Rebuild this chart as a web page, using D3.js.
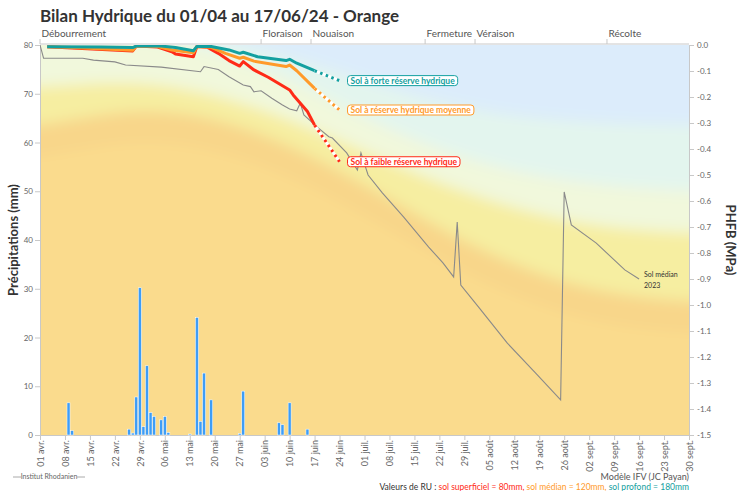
<!DOCTYPE html>
<html>
<head>
<meta charset="utf-8">
<script src="https://cdn.jsdelivr.net/npm/d3@7/dist/d3.min.js"></script>
<style>
  body { margin: 0; background: #fff; }
  svg { font-family: Lato, "Open Sans", sans-serif; }
</style>
</head>
<body>
<svg id="chart" width="739" height="491"></svg>
<script>
// pluie journalière (mm)
const rainDates = ["2024-04-09","2024-04-10","2024-04-26","2024-04-27","2024-04-28","2024-04-29","2024-04-30",
  "2024-05-01","2024-05-02","2024-05-03","2024-05-05","2024-05-06","2024-05-07","2024-05-13","2024-05-15",
  "2024-05-16","2024-05-17","2024-05-19","2024-05-27","2024-05-28","2024-06-07","2024-06-08","2024-06-10","2024-06-15"];
const rainMm = [6.6,0.9,1.2,0.4,7.8,30.2,1.7,14.2,4.6,3.8,3.1,3.8,0.5,0.2,24.1,2.8,12.7,7.2,0.3,9.0,2.5,2.1,6.6,1.2];

// PHFB (MPa) 2024 - trois types de sol
const forteDates = ["2024-04-03","2024-04-18","2024-04-27","2024-04-28","2024-05-05","2024-05-09","2024-05-14","2024-05-15",
  "2024-05-19","2024-05-24","2024-05-27","2024-05-28","2024-06-01","2024-06-09","2024-06-10","2024-06-12","2024-06-17"];
const forteVals = [-0.007,-0.008,-0.01,-0.004,-0.004,-0.01,-0.022,-0.006,-0.006,-0.019,-0.032,-0.028,-0.045,-0.06,-0.055,-0.07,-0.099];

const moyDates = ["2024-04-03","2024-04-10","2024-04-27","2024-04-28","2024-05-04","2024-05-08","2024-05-14","2024-05-15",
  "2024-05-19","2024-05-23","2024-05-27","2024-05-28","2024-05-31","2024-06-09","2024-06-10","2024-06-12","2024-06-17"];
const moyVals = [-0.007,-0.01,-0.02,-0.004,-0.006,-0.019,-0.03,-0.006,-0.009,-0.032,-0.051,-0.047,-0.062,-0.083,-0.077,-0.099,-0.167];

const faibleDates = ["2024-04-03","2024-04-10","2024-04-27","2024-04-28","2024-05-04","2024-05-08","2024-05-09","2024-05-14",
  "2024-05-15","2024-05-18","2024-05-21","2024-05-24","2024-05-27","2024-05-28","2024-05-31","2024-06-04","2024-06-10",
  "2024-06-11","2024-06-15","2024-06-17"];
const faibleVals = [-0.007,-0.012,-0.023,-0.004,-0.008,-0.026,-0.035,-0.045,-0.006,-0.009,-0.032,-0.06,-0.081,-0.064,
  -0.096,-0.124,-0.173,-0.192,-0.256,-0.308];

// prévision à 7 jours
const prevDates = ["2024-06-17","2024-06-24"];
const prevForte = [-0.099,-0.137];
const prevMoy = [-0.167,-0.25];
const prevFaible = [-0.308,-0.449];

// sol médian 2023
const medDates = ["2024-04-01","2024-04-02","2024-04-13","2024-04-16","2024-04-22","2024-04-25","2024-05-05","2024-05-16",
  "2024-05-17","2024-05-21","2024-05-24","2024-05-28","2024-05-30","2024-05-31","2024-06-02","2024-06-05","2024-06-08",
  "2024-06-10","2024-06-12","2024-06-13","2024-06-14","2024-06-18","2024-06-21","2024-06-22","2024-06-26","2024-06-29",
  "2024-06-30","2024-07-02","2024-07-06","2024-07-12","2024-07-19","2024-07-23","2024-07-26","2024-07-27","2024-07-28",
  "2024-08-02","2024-08-10","2024-08-18","2024-08-25","2024-08-26","2024-08-28","2024-09-04","2024-09-12","2024-09-16"];
const medVals = [0,-0.051,-0.051,-0.058,-0.065,-0.077,-0.085,-0.103,-0.083,-0.094,-0.122,-0.154,-0.16,-0.18,-0.176,-0.205,
  -0.231,-0.246,-0.253,-0.223,-0.269,-0.319,-0.353,-0.358,-0.415,-0.481,-0.415,-0.5,-0.569,-0.662,-0.777,-0.838,-0.892,
  -0.681,-0.923,-1.008,-1.146,-1.262,-1.365,-0.565,-0.692,-0.762,-0.865,-0.9];

// seuils de contrainte (fond coloré), MPa
const bandDates = ["2024-04-01","2024-05-01","2024-06-01","2024-07-01","2024-08-01","2024-09-01","2024-09-30"];
const seuilBleu = [0.1,0.06,0.0,-0.14,-0.26,-0.3,-0.31];
const seuilMenthe = [0.06,0.04,-0.058,-0.288,-0.462,-0.538,-0.565];
const seuilVert = [-0.165,-0.127,-0.231,-0.41,-0.59,-0.7,-0.725];
const seuilJaune = [-0.319,-0.223,-0.319,-0.53,-0.79,-0.95,-0.99];

const phenoNames = ["Débourrement","Floraison","Nouaison","Fermeture","Véraison","Récolte"];
const phenoDates = ["2024-04-01","2024-06-02","2024-06-16","2024-07-18","2024-08-01","2024-09-07"];

const rainTicks = [0,10,20,30,40,50,60,70,80];
const phfbTicks = [0,-0.1,-0.2,-0.3,-0.4,-0.5,-0.6,-0.7,-0.8,-0.9,-1.0,-1.1,-1.2,-1.3,-1.4,-1.5];
const moisFr = ["janv.","févr.","mars","avr.","mai","juin","juil.","août","sept.","oct.","nov.","déc."];

const parse = d3.utcParse("%Y-%m-%d");
const pts = (ds, vs) => ds.map((d, i) => ({ date: parse(d), v: vs[i] }));

const svg = d3.select("#chart");
const pLeft = 40, pRight = 689, pTop = 45, pBottom = 435;

const x = d3.scaleUtc().domain([parse("2024-04-01"), parse("2024-09-30")]).range([pLeft, pRight]);
const yRain = d3.scaleLinear().domain([0, 80]).range([pBottom, pTop]);
const yP = d3.scaleLinear().domain([-1.5, 0]).range([pBottom, pTop]);

const defs = svg.append("defs");
defs.append("clipPath").attr("id", "plot")
  .append("rect").attr("x", pLeft).attr("y", pTop).attr("width", pRight - pLeft).attr("height", pBottom - pTop);
defs.append("filter").attr("id", "soft")
  .attr("filterUnits", "userSpaceOnUse")
  .attr("x", -100).attr("y", -100).attr("width", 939).attr("height", 691)
  .append("feGaussianBlur").attr("stdDeviation", 7);

// fond
const bg = svg.append("g").attr("clip-path", "url(#plot)").append("g").attr("filter", "url(#soft)");
bg.append("rect").attr("x", 0).attr("y", 0).attr("width", 739).attr("height", 491).attr("fill", "#fadb8d");

function bandPts(vals, shift) {
  const p = pts(bandDates, vals.map(v => v + shift));
  // prolonger hors du cadre pour éviter le flou sur les bords
  return [{ date: d3.utcDay.offset(p[0].date, -20), v: p[0].v }, ...p,
          { date: d3.utcDay.offset(p[p.length - 1].date, 20), v: p[p.length - 1].v }];
}
const bandArea = d3.area().x(d => x(d.date)).y0(-50).y1(d => yP(d.v)).curve(d3.curveBasis);
const layers = [
  ["#f8d68a", seuilJaune, -0.12],
  ["#f6eea1", seuilJaune, 0],
  ["#f1f8dc", seuilVert, 0],
  ["#e3f5ee", seuilMenthe, 0],
  ["#dcecfb", seuilBleu, 0]
];
layers.forEach(([c, vals, s]) => {
  bg.append("path").datum(bandPts(vals, s)).attr("d", bandArea).attr("fill", c);
});

// axes
const axisColor = "#c8c8c8";
const gLeft = svg.append("g").attr("transform", `translate(${pLeft},0)`)
  .call(d3.axisLeft(yRain).tickValues(rainTicks).tickSize(5).tickPadding(2));
const gRight = svg.append("g").attr("transform", `translate(${pRight},0)`)
  .call(d3.axisRight(yP).tickValues(phfbTicks).tickSize(5).tickPadding(3)
    .tickFormat(d => (Math.abs(d) < 1e-9 ? 0 : d).toFixed(1)));
const gBottom = svg.append("g").attr("transform", `translate(0,${pBottom})`)
  .call(d3.axisBottom(x).tickValues(d3.utcMonday.range(parse("2024-04-01"), parse("2024-10-01")))
    .tickSize(5)
    .tickFormat(d => d3.utcFormat("%d")(d) + " " + moisFr[d.getUTCMonth()]));
gBottom.selectAll("text")
  .attr("transform", "rotate(-90)").attr("text-anchor", "end")
  .attr("x", -5).attr("y", 0).attr("dy", "0.35em")
  .style("font-size", "9px");
[gLeft, gRight, gBottom].forEach(g => {
  g.select(".domain").attr("stroke", axisColor);
  g.selectAll(".tick line").attr("stroke", axisColor);
  g.selectAll("text").attr("fill", "#666").style("font-family", "Lato, sans-serif");
});
gLeft.selectAll("text").style("font-size", "8px");
gRight.selectAll("text").style("font-size", "8px");

// axe du haut : stades phénologiques
const gTop = svg.append("g");
gTop.append("line").attr("x1", pLeft).attr("x2", pRight).attr("y1", pTop - 1).attr("y2", pTop - 1).attr("stroke", axisColor);
phenoDates.forEach((d, i) => {
  const px = x(parse(d));
  gTop.append("line").attr("x1", px).attr("x2", px).attr("y1", pTop - 6).attr("y2", pTop - 1).attr("stroke", axisColor);
  gTop.append("text").attr("x", px + 1.5).attr("y", pTop - 8.5).text(phenoNames[i])
    .attr("fill", "#555").style("font-size", "10px");
});

// pluie
svg.append("g").selectAll("rect").data(pts(rainDates, rainMm)).join("rect")
  .attr("x", d => x(d.date) - 1.5).attr("width", 3)
  .attr("y", d => yRain(d.v)).attr("height", d => yRain(0) - yRain(d.v))
  .attr("fill", "#3d9df7").attr("stroke", "#fff").attr("stroke-width", 0.5);

// courbes
const line = d3.line().x(d => x(d.date)).y(d => yP(d.v));
const plotG = svg.append("g").attr("clip-path", "url(#plot)");
plotG.append("path").datum(pts(medDates, medVals)).attr("d", line)
  .attr("fill", "none").attr("stroke", "#8a8a8a").attr("stroke-width", 1.1);

const series = [
  { d: faibleDates, v: faibleVals, p: prevFaible, c: "#ff2b17", label: "Sol à faible réserve hydrique" },
  { d: moyDates, v: moyVals, p: prevMoy, c: "#ff9a2a", label: "Sol à réserve hydrique moyenne" },
  { d: forteDates, v: forteVals, p: prevForte, c: "#13a0a0", label: "Sol à forte réserve hydrique" }
];
series.forEach(s => {
  plotG.append("path").datum(pts(s.d, s.v)).attr("d", line)
    .attr("fill", "none").attr("stroke", s.c).attr("stroke-width", 3).attr("stroke-linejoin", "round");
});
series.forEach(s => {
  const pp = pts(prevDates, s.p);
  plotG.append("path").datum(pp).attr("d", line)
    .attr("fill", "none").attr("stroke", "#fff").attr("stroke-width", 3);
  plotG.append("path").datum(pp).attr("d", line)
    .attr("fill", "none").attr("stroke", s.c).attr("stroke-width", 3).attr("stroke-dasharray", "2.5,3.5");
});

// étiquettes des séries
series.forEach(s => {
  const end = pts(prevDates, s.p)[1];
  const lx = x(end.date) + 8, ly = yP(end.v);
  const g = svg.append("g");
  const rect = g.append("rect");
  const t = g.append("text").attr("x", lx + 3).attr("y", ly).attr("dy", "0.35em")
    .text(s.label).attr("fill", s.c).style("font-size", "8.5px").style("font-weight", "bold");
  const w = t.node().getComputedTextLength();
  rect.attr("x", lx).attr("y", ly - 5).attr("width", w + 6).attr("height", 10).attr("rx", 3)
    .attr("fill", "#fff").attr("stroke", s.c).attr("stroke-width", 1);
});

// étiquette sol médian
const medEnd = pts(medDates, medVals)[medDates.length - 1];
svg.append("text").attr("x", x(medEnd.date) + 5).attr("y", yP(medEnd.v) - 2)
  .text("Sol médian").attr("fill", "#333").style("font-size", "7px");
svg.append("text").attr("x", x(medEnd.date) + 5).attr("y", yP(medEnd.v) + 9)
  .text("2023").attr("fill", "#333").style("font-size", "7px");

// titres
svg.append("text").attr("x", pLeft).attr("y", 22)
  .text("Bilan Hydrique du 01/04 au 17/06/24 - Orange")
  .attr("fill", "#333").style("font-size", "17px").style("font-weight", "bold");
svg.append("text").attr("transform", `translate(18,${(pTop + pBottom) / 2}) rotate(-90)`)
  .attr("text-anchor", "middle").text("Précipitations (mm)")
  .attr("fill", "#333").style("font-size", "13px").style("font-weight", "bold");
svg.append("text").attr("transform", `translate(726,${(pTop + pBottom) / 2}) rotate(90)`)
  .attr("text-anchor", "middle").text("PHFB (MPa)")
  .attr("fill", "#333").style("font-size", "13px").style("font-weight", "bold");

// pied
const logo = svg.append("g");
logo.append("text").attr("x", 49).attr("y", 479).attr("text-anchor", "middle")
  .text("Institut Rhodanien").attr("fill", "#666").style("font-size", "7px");
logo.append("line").attr("x1", 13).attr("x2", 21).attr("y1", 477).attr("y2", 477).attr("stroke", "#aaa");
logo.append("line").attr("x1", 77).attr("x2", 85).attr("y1", 477).attr("y2", 477).attr("stroke", "#aaa");

svg.append("text").attr("x", pRight).attr("y", 480).attr("text-anchor", "end")
  .text("Modèle IFV (JC Payan)").attr("fill", "#555").style("font-size", "9px");

const ru = svg.append("text").attr("x", pRight).attr("y", 490).attr("text-anchor", "end").style("font-size", "8.5px");
ru.append("tspan").attr("fill", "#333").text("Valeurs de RU : ");
ru.append("tspan").attr("fill", "#ff2b17").text("sol superficiel = 80mm, ");
ru.append("tspan").attr("fill", "#ff9a2a").text("sol médian = 120mm, ");
ru.append("tspan").attr("fill", "#13a0a0").text("sol profond = 180mm");
</script>
</body>
</html>
